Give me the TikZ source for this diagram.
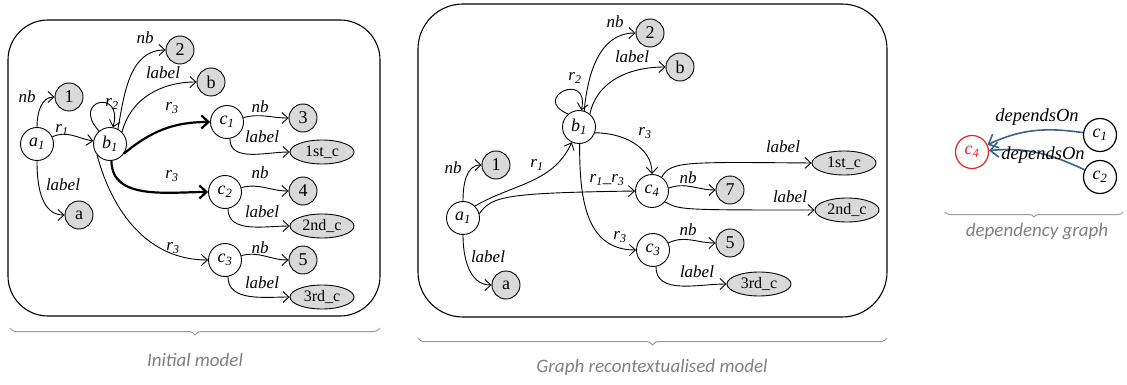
\documentclass[tikz,border=0pt]{standalone}
\usepackage{fontspec}
\setmainfont{Liberation Serif}
\newfontfamily\capfont{Carlito}
\usetikzlibrary{arrows.meta,shapes.geometric,decorations.pathreplacing}
\newcommand\vs[2]{\textit{#1}\textsubscript{\textit{#2}}}
\definecolor{capgray}{HTML}{808080}
\definecolor{bracegray}{HTML}{9A9A9A}
\definecolor{depblue}{HTML}{3C5F8C}
\definecolor{nodegray}{HTML}{D9D9D9}
\definecolor{depred}{HTML}{E02626}
\begin{document}
\begin{tikzpicture}[x=1pt,y=-1pt,
 every node/.style={font=\fontsize{18}{21}\selectfont},
 var/.style={circle,draw,line width=0.9pt,minimum size=33pt,inner sep=0pt,fill=white},
 val/.style={circle,draw,line width=0.9pt,fill=nodegray,minimum size=28pt,inner sep=0pt},
 lit/.style={ellipse,draw,line width=0.9pt,fill=nodegray,minimum width=64pt,minimum height=24pt,inner sep=0pt,font=\fontsize{16}{18}\selectfont},
 edge/.style={draw,line width=0.9pt,-{Straight Barb[length=6pt,width=11pt]}},
 boldedge/.style={draw,line width=2.2pt,-{Straight Barb[length=7pt,width=13pt]}},
 dep/.style={draw=depblue,line width=1.6pt,-{Straight Barb[length=8pt,width=15pt]}},
 lbl/.style={font=\fontsize{17}{20}\selectfont\itshape,inner sep=1pt},
 deplbl/.style={font=\fontsize{18.5}{21}\selectfont\itshape,inner sep=1pt},
 frame/.style={draw,line width=1.1pt},
 brc/.style={draw=bracegray,line width=1pt,decorate,decoration={brace,amplitude=7pt,mirror}},
 captext/.style={font=\capfont\itshape\fontsize{19}{22}\selectfont,text=capgray}
]
\useasboundingbox (0,0) rectangle (1127,385);

% ---------------- Initial model ----------------
\draw[frame,rounded corners=40pt] (8,20) rectangle (380,316);
\node[var] (a1) at (37,144) {\vs{a}{1}};
\node[val] (n1) at (69,97) {1};
\node[val] (na) at (79,215) {a};
\node[var] (b1) at (110,144) {\vs{b}{1}};
\node[val] (n2) at (180,50) {2};
\node[val] (nb) at (211,82) {b};
\node[var] (c1) at (227,122) {\vs{c}{1}};
\node[val] (n3) at (303,118) {3};
\node[lit] (s1) at (322,152) {1st\_c};
\node[var] (c2) at (225,192) {\vs{c}{2}};
\node[val] (n4) at (303,191) {4};
\node[lit] (s2) at (322,226) {2nd\_c};
\node[var] (c3) at (225,260) {\vs{c}{3}};
\node[val] (n5) at (303,260) {5};
\node[lit] (s3) at (322,297) {3rd\_c};

\draw[edge] (a1) to[out=90,in=180] (n1);
\draw[edge] (a1) to[out=-90,in=180] (na);
\draw[edge] (a1.25) to[out=25,in=170] (b1);
\draw[edge] (b1.130) .. controls (70,100) and (124,88) .. (b1.80);
\draw[edge] (b1.62) to[out=80,in=180] (n2);
\draw[edge] (b1.45) to[out=75,in=180] (nb);
\draw[boldedge] (b1.-35) to[out=40,in=180] (c1);
\draw[boldedge] (b1.-85) to[out=-90,in=180] (c2);
\draw[edge] (b1.-140) to[out=-75,in=180] (c3);
\draw[edge] (c1) to[out=15,in=180] (n3);
\draw[edge] (c1.-80) to[out=-90,in=180] (s1);
\draw[edge] (c2) to[out=15,in=180] (n4);
\draw[edge] (c2.-80) to[out=-90,in=180] (s2);
\draw[edge] (c3) to[out=15,in=180] (n5);
\draw[edge] (c3.-80) to[out=-90,in=180] (s3);

\node[lbl] (l1) at (27,97) {nb};
\node[lbl] (l2) at (63,185) {label};
\node[lbl] (l3) at (62,130) {\vs{r}{1}};
\node[lbl] (l4) at (112,104) {\vs{r}{2}};
\node[lbl] (l5) at (145,38) {nb};
\node[lbl] (l6) at (163,73) {label};
\node[lbl] (l7) at (172,108) {\vs{r}{3}};
\node[lbl] (l8) at (172,176) {\vs{r}{3}};
\node[lbl] (l9) at (173,248) {\vs{r}{3}};
\node[lbl] (l10) at (260,107) {nb};
\node[lbl] (l11) at (262,137) {label};
\node[lbl] (l12) at (260,173) {nb};
\node[lbl] (l13) at (262,212) {label};
\node[lbl] (l14) at (260,248) {nb};
\node[lbl] (l15) at (262,283) {label};

\draw[brc] (10,328) -- (380,328);
\node[captext] (cap1) at (195,360) {Initial model};

% ---------------- Graph recontextualised model ----------------
\draw[frame,rounded corners=45pt] (418,4) rectangle (887,317);
\node[var] (mb1) at (579,127) {\vs{b}{1}};
\node[val] (mn2) at (650,33) {2};
\node[val] (mnb) at (680,67) {b};
\node[val] (mn1) at (496,165) {1};
\node[var] (ma1) at (463,218) {\vs{a}{1}};
\node[val] (mna) at (506,285) {a};
\node[var] (mc4) at (652,191) {\vs{c}{4}};
\node[var] (mc3) at (653,250) {\vs{c}{3}};
\node[val] (mn7) at (730,190) {7};
\node[val] (mn5) at (730,243) {5};
\node[lit] (ms1) at (844,163) {1st\_c};
\node[lit] (ms2) at (847,210) {2nd\_c};
\node[lit] (ms3) at (759,284) {3rd\_c};

\draw[edge] (ma1) to[out=90,in=180] (mn1);
\draw[edge] (ma1) to[out=-90,in=180] (mna);
\draw[edge] (ma1.45) to[out=30,in=-115] (mb1);
\draw[edge] (ma1.15) .. controls (492,196) and (505,193) .. (mc4.180);
\draw[edge] (mb1.72) to[out=85,in=180] (mn2);
\draw[edge] (mb1.50) to[out=78,in=180] (mnb);
\draw[edge] (mb1.-20) to[out=0,in=90] (mc4);
\draw[edge] (mb1.-88) to[out=-90,in=180,looseness=1.1] (mc3);
\draw[edge] (mc4.55) .. controls (671,161) and (685,162) .. (ms1.180);
\draw[edge] (mc4.10) to[out=20,in=180] (mn7);
\draw[edge] (mc4.-40) .. controls (680,210) .. (ms2.180);
\draw[edge] (mc3) to[out=25,in=180] (mn5);
\draw[edge] (mc3.-80) to[out=-90,in=180] (ms3);
\draw[edge] (mb1.130) .. controls (530,98) and (590,70) .. (mb1.82);

\node[lbl] (m1) at (615,22) {nb};
\node[lbl] (m2) at (632,57) {label};
\node[lbl] (m3) at (575,78) {\vs{r}{2}};
\node[lbl] (m4) at (645,133) {\vs{r}{3}};
\node[lbl] (m5) at (453,168) {nb};
\node[lbl] (m6) at (537,165) {\vs{r}{1}};
\node[lbl] (m7) at (607,180) {\vs{r}{1}\_\vs{r}{3}};
\node[lbl] (m8) at (488,257) {label};
\node[lbl] (m9) at (620,237) {\vs{r}{3}};
\node[lbl] (m10) at (783,147) {label};
\node[lbl] (m11) at (688,178) {nb};
\node[lbl] (m12) at (790,197) {label};
\node[lbl] (m13) at (688,230) {nb};
\node[lbl] (m14) at (697,272) {label};

\draw[brc] (418,338) -- (887,338);
\node[captext] (cap2) at (652,367) {Graph recontextualised model};

% ---------------- dependency graph ----------------
\node[var,draw=depred,text=depred,line width=1.2pt] (rc4) at (972,152) {\vs{c}{4}};
\node[var,line width=1.2pt] (rc1) at (1100,135) {\vs{c}{1}};
\node[var,line width=1.2pt] (rc2) at (1100,177) {\vs{c}{2}};
\draw[dep] (rc1) to[out=172,in=25] (rc4);
\draw[dep] (rc2) to[out=155,in=5] (rc4);
\node[deplbl] (d1) at (1037,117) {dependsOn};
\node[deplbl] (d2) at (1043,155) {dependsOn};

\draw[brc,decoration={brace,amplitude=5pt,mirror}] (945,212) -- (1123,212);
\node[captext] (cap3) at (1037,232) {dependency graph};
\end{tikzpicture}
\end{document}
